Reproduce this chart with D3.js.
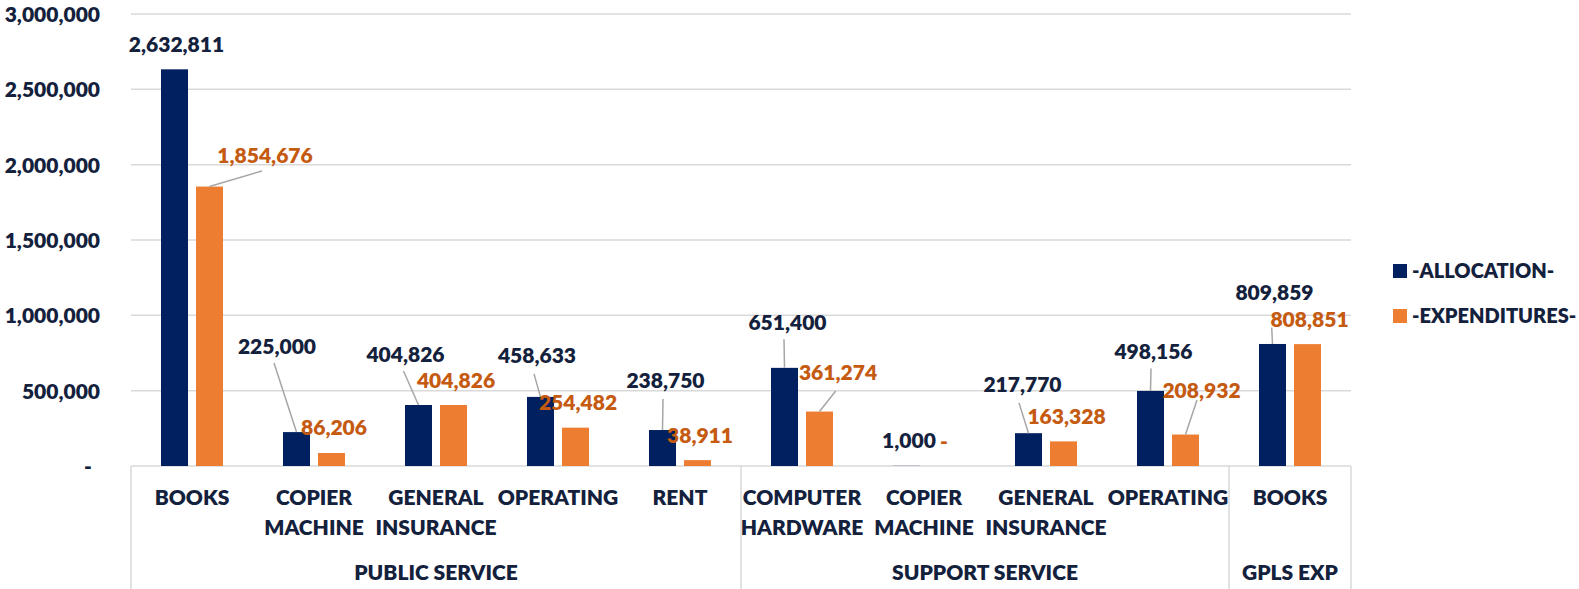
<!DOCTYPE html>
<html>
<head>
<meta charset="utf-8">
<script src="https://cdn.jsdelivr.net/npm/d3@7"></script>
<style>
  html, body { margin: 0; padding: 0; background: #ffffff; }
  svg { display: block; font-family: Lato, "Open Sans", sans-serif; font-weight: 800; }
</style>
</head>
<body>
<svg id="chart" width="1579" height="589"></svg>
<script>
// ---- data ----
const groups = ["PUBLIC SERVICE", "SUPPORT SERVICE", "GPLS EXP"];
const categories = ["BOOKS", "COPIER MACHINE", "GENERAL INSURANCE", "OPERATING", "RENT",
                    "COMPUTER HARDWARE", "COPIER MACHINE", "GENERAL INSURANCE", "OPERATING", "BOOKS"];
const categoryGroup = [0, 0, 0, 0, 0, 1, 1, 1, 1, 2];
const allocation = [2632811, 225000, 404826, 458633, 238750, 651400, 1000, 217770, 498156, 809859];
const expenditures = [1854676, 86206, 404826, 254482, 38911, 361274, 0, 163328, 208932, 808851];
const seriesNames = ["-ALLOCATION-", "-EXPENDITURES-"];
const yTicks = [0, 500000, 1000000, 1500000, 2000000, 2500000, 3000000];

// ---- label layout (offsets from bar top centre, leader start relative to label) ----
const allocLabelLayout = [
  { dx: 2, dy: -25 },
  { dx: -19.5, dy: -86, leader: [-3, 17] },
  { dx: -13, dy: -51, leader: [-2, 17] },
  { dx: -3.5, dy: -41, leader: [-3, 18] },
  { dx: 3, dy: -50, leader: [-2.5, 19] },
  { dx: 3, dy: -45, leader: [-3.5, 16.5] },
  { dx: 2.5, dy: -25 },
  { dx: -6, dy: -49, leader: [-3.5, 18.7] },
  { dx: 3, dy: -40, leader: [-2.5, 17.5] },
  { dx: 2, dy: -52, leader: [-2.8, 35.5] }
];
const expLabelLayout = [
  { dx: 55.5, dy: -31.6, leader: [-3, 16] },
  { dx: 2.5, dy: -25.5 },
  { dx: 2.5, dy: -25 },
  { dx: 2.5, dy: -25 },
  { dx: 2.5, dy: -24.5 },
  { dx: 18.5, dy: -39, leader: [-2.3, 18.5] },
  { dx: 2.5, dy: -25 },
  { dx: 3, dy: -24.5 },
  { dx: 16, dy: -44, leader: [-4.5, 9.5] },
  { dx: 2, dy: -25 }
];

// ---- styles ----
const colors = ["#002060", "#ED7D31"];
const labelColors = ["#14213d", "#C55A11"];
const textColor = "#14213d";
const gridColor = "#d9d9d9";
const leaderColor = "#a6a6a6";
const fontSize = 21;

const svg = d3.select("#chart");
const plotLeft = 131, plotRight = 1351, plotTop = 14, plotBottom = 466;

const x = d3.scaleBand().domain(d3.range(categories.length)).range([plotLeft, plotRight]);
const x1 = d3.scaleBand().domain([0, 1]).range([0, x.bandwidth()])
  .paddingInner(0.2286).paddingOuter(0.857);
const y = d3.scaleLinear().domain([0, 3000000]).range([plotBottom, plotTop]);
const fmt = v => v === 0 ? "-" : d3.format(",")(v);

// gridlines
svg.append("g").selectAll("line").data(yTicks).join("line")
  .attr("x1", plotLeft).attr("x2", plotRight)
  .attr("y1", d => y(d)).attr("y2", d => y(d))
  .attr("stroke", gridColor).attr("stroke-width", 1.5);

// y-axis labels
const yAxis = d3.axisLeft(y).tickValues(yTicks).tickSize(0).tickPadding(0)
  .tickFormat(d => d === 0 ? "-" : d3.format(",")(d));
const yg = svg.append("g").attr("transform", "translate(100,0)").call(yAxis);
yg.select(".domain").remove();
yg.selectAll("text")
  .attr("fill", textColor).attr("font-size", fontSize)
  .attr("font-family", "Lato, sans-serif").attr("font-weight", 800)
  .attr("dy", "0.36em")
  .filter(d => d === 0).attr("text-anchor", "middle").attr("x", -12);

// category axis lines
const boundaries = [plotLeft];
categoryGroup.forEach((g, i) => {
  if (i === categoryGroup.length - 1 || categoryGroup[i + 1] !== g) boundaries.push(x(i) + x.bandwidth());
});
svg.append("g").selectAll("line").data(boundaries).join("line")
  .attr("x1", d => d).attr("x2", d => d)
  .attr("y1", plotBottom).attr("y2", 589)
  .attr("stroke", gridColor).attr("stroke-width", 1.5);

// bars
const series = [allocation, expenditures];
series.forEach((vals, s) => {
  svg.append("g").selectAll("rect").data(vals).join("rect")
    .attr("x", (d, i) => x(i) + x1(s))
    .attr("width", x1.bandwidth())
    .attr("y", d => y(d))
    .attr("height", d => y(0) - y(d))
    .attr("fill", colors[s]);
});

// leader lines and data labels
const layouts = [allocLabelLayout, expLabelLayout];
series.forEach((vals, s) => {
  const g = svg.append("g");
  vals.forEach((v, i) => {
    const bx = x(i) + x1(s) + x1.bandwidth() / 2;
    const by = y(v);
    const L = layouts[s][i];
    const lx = bx + L.dx, ly = by + L.dy;
    if (L.leader) {
      g.append("line")
        .attr("x1", lx + L.leader[0]).attr("y1", ly + L.leader[1])
        .attr("x2", bx).attr("y2", by)
        .attr("stroke", leaderColor).attr("stroke-width", 1.5);
    }
    g.append("text")
      .attr("x", lx).attr("y", ly).attr("dy", "0.36em")
      .attr("text-anchor", "middle")
      .attr("font-size", fontSize)
      .attr("fill", labelColors[s])
      .text(fmt(v));
  });
});

// category labels
const catG = svg.append("g");
categories.forEach((c, i) => {
  const words = c.split(" ");
  const cx = x(i) + x.bandwidth() / 2;
  words.forEach((w, k) => {
    catG.append("text")
      .attr("x", cx).attr("y", 497 + k * 30).attr("dy", "0.36em")
      .attr("text-anchor", "middle").attr("font-size", fontSize)
      .attr("fill", textColor).text(w);
  });
});

// group labels
groups.forEach((gname, gi) => {
  const idx = categoryGroup.map((g, i) => g === gi ? i : -1).filter(i => i >= 0);
  const x0 = x(idx[0]), x2 = x(idx[idx.length - 1]) + x.bandwidth();
  svg.append("text")
    .attr("x", (x0 + x2) / 2).attr("y", 572).attr("dy", "0.36em")
    .attr("text-anchor", "middle").attr("font-size", fontSize)
    .attr("fill", textColor).text(gname);
});

// legend
const leg = svg.append("g");
seriesNames.forEach((n, s) => {
  const cy = 271 + s * 45;
  leg.append("rect").attr("x", 1393).attr("y", cy - 7).attr("width", 14).attr("height", 14)
    .attr("fill", colors[s]);
  leg.append("text").attr("x", 1412).attr("y", cy).attr("dy", "0.36em")
    .attr("font-size", 20).attr("fill", textColor).text(n);
});
</script>
</body>
</html>
